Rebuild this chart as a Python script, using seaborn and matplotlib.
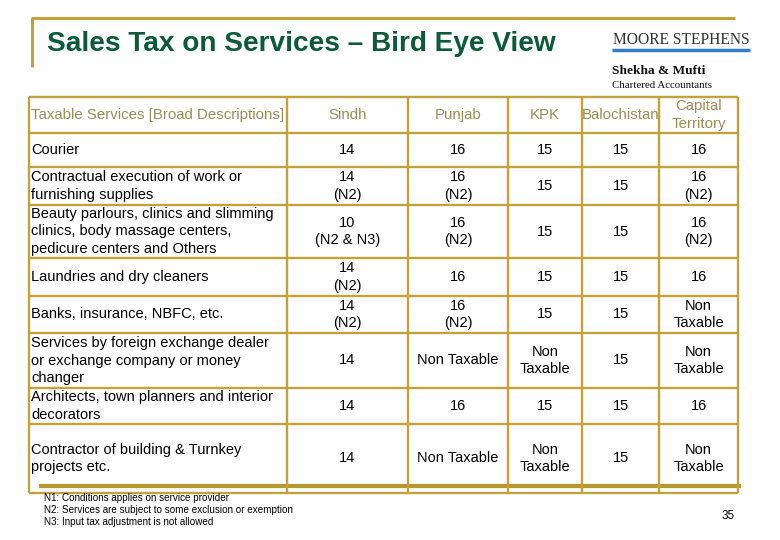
import matplotlib
matplotlib.use("Agg")
import matplotlib.pyplot as plt
import seaborn as sns

# table content
columns = ["Taxable Services [Broad Descriptions]", "Sindh", "Punjab", "KPK",
           "Balochistan", "Capital\nTerritory"]
services = [
    "Courier",
    "Contractual execution of work or\nfurnishing supplies",
    "Beauty parlours, clinics and slimming\nclinics, body massage centers,\npedicure centers and Others",
    "Laundries and dry cleaners",
    "Banks, insurance, NBFC, etc.",
    "Services by foreign exchange dealer\nor exchange company or money\nchanger",
    "Architects, town planners and interior\ndecorators",
    "Contractor of building & Turnkey\nprojects etc.",
]
sindh = ["14", "14\n(N2)", "10\n(N2 & N3)", "14\n(N2)", "14\n(N2)", "14", "14", "14"]
punjab = ["16", "16\n(N2)", "16\n(N2)", "16", "16\n(N2)", "Non Taxable", "16", "Non Taxable"]
kpk = ["15", "15", "15", "15", "15", "Non\nTaxable", "15", "Non\nTaxable"]
balochistan = ["15", "15", "15", "15", "15", "15", "15", "15"]
capital = ["16", "16\n(N2)", "16\n(N2)", "16", "Non\nTaxable", "Non\nTaxable", "16", "Non\nTaxable"]
notes = ["N1: Conditions applies on service provider",
         "N2: Services are subject to some exclusion or exemption",
         "N3: Input tax adjustment is not allowed"]

# layout (pixel space of the 780x540 slide)
col_edges = [29, 287, 408, 508, 582, 659, 738]
row_edges = [97, 133, 167, 205, 258, 296, 333, 388, 424, 493]
gold = "#c4a23a"
head_col = "#9c8e58"

sns.set_theme(style="white")
plt.rcParams["font.family"] = ["Liberation Sans", "DejaVu Sans"]

fig = plt.figure(figsize=(7.8, 5.4), dpi=100)
ax = fig.add_axes([0, 0, 1, 1])
ax.set_xlim(0, 780)
ax.set_ylim(540, 0)
ax.axis("off")

# title bracket
ax.hlines(18, 31, 735, color=gold, lw=2.2)
ax.vlines(32, 18, 67, color=gold, lw=2.2)
ax.text(47, 44, "Sales Tax on Services \u2013 Bird Eye View", fontsize=20.2,
        fontweight="bold", color="#0b5a38", va="center", ha="left")

# logo
ax.text(681, 40, "MOORE STEPHENS", family="Liberation Serif", fontsize=11.2,
        color="#333333", ha="center", va="center")
ax.hlines(50, 612, 750, color="#2f7fc8", lw=2.5)
ax.text(612, 71, "Shekha & Mufti", family="Liberation Serif", fontsize=9.6,
        fontweight="bold", color="#111111", ha="left", va="center")
ax.text(612, 86, "Chartered Accountants", family="Liberation Serif", fontsize=7.8,
        color="#111111", ha="left", va="center")

# grid
ax.hlines(row_edges, col_edges[0], col_edges[-1], color=gold, lw=1.7)
ax.hlines(486, 39, 741, color="#b8982e", lw=3)
ax.vlines(col_edges, row_edges[0], row_edges[-1], color=gold, lw=1.7)

fs = 10.5
ls = 1.3
# header
yh = (row_edges[0] + row_edges[1]) / 2
ax.text(col_edges[0] + 2, yh, columns[0], fontsize=10.8, color=head_col,
        ha="left", va="center")
for j, name in enumerate(columns[1:], start=1):
    xc = (col_edges[j] + col_edges[j + 1]) / 2
    ax.text(xc, yh, name, fontsize=10.8, color=head_col, ha="center",
            va="center", linespacing=ls)

# body
value_cols = [sindh, punjab, kpk, balochistan, capital]
for i, svc in enumerate(services):
    yc = (row_edges[i + 1] + row_edges[i + 2]) / 2
    ax.text(col_edges[0] + 2, yc, svc, fontsize=fs, color="black",
            ha="left", va="center", linespacing=ls)
    for j, col in enumerate(value_cols, start=1):
        xc = (col_edges[j] + col_edges[j + 1]) / 2
        ax.text(xc, yc, col[i], fontsize=fs, color="black", ha="center",
                va="center", linespacing=ls)

# footnotes and page number
for k, note in enumerate(notes):
    ax.text(44, 498 + 12 * k, note, fontsize=7.1, color="black",
            ha="left", va="center")
ax.text(728, 516, "35", fontsize=8.5, color="black", ha="center", va="center")

fig.savefig("out.png", dpi=100)
